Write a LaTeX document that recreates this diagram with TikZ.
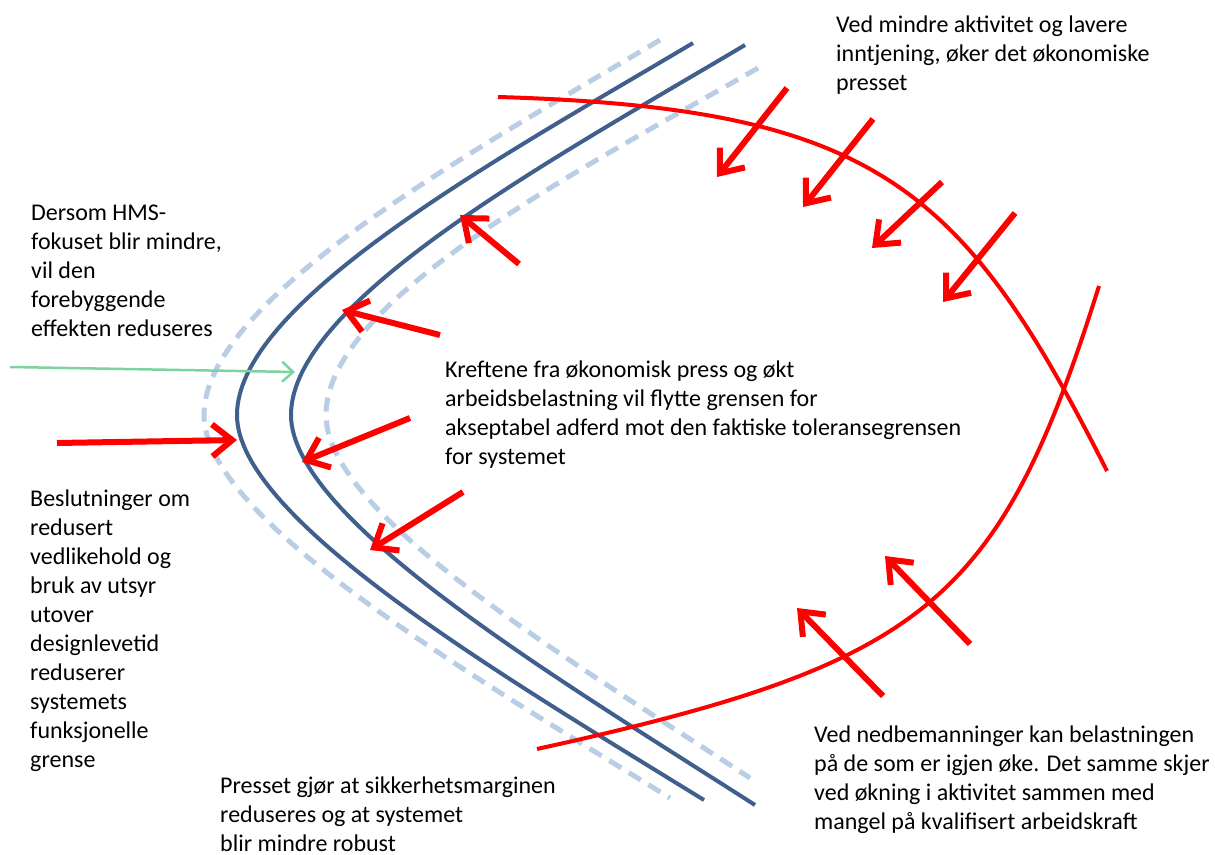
\documentclass[tikz,border=0pt]{standalone}
\usepackage{fontspec}
\setmainfont{Carlito}
\usetikzlibrary{arrows.meta}
\definecolor{grensebla}{RGB}{63,95,140}
\definecolor{marginbla}{RGB}{185,205,229}
\definecolor{hmsgronn}{RGB}{125,211,160}
\definecolor{pressrod}{RGB}{255,0,0}

\begin{document}
\begin{tikzpicture}[x=1pt,y=-1pt,
	every node/.style={align=left,anchor=north west,inner sep=0pt,font=\fontsize{24}{29}\selectfont},
	grense/.style={draw=grensebla,line width=4pt},
	margin/.style={draw=marginbla,line width=5pt,dash pattern=on 14pt off 9pt},
	press/.style={draw=pressrod,line width=4pt},
	kraft/.style={draw=pressrod,line width=6pt,-{Straight Barb[length=20pt,width=32pt]}},
	hms/.style={draw=hmsgronn,line width=2.5pt,-{Straight Barb[length=11pt,width=20pt]}}]
	\useasboundingbox (0,0) rectangle (1215,854);
	\draw[margin] (660,40) .. controls (475,150) and (204,298) .. (204,415) .. controls (204,520) and (473,676) .. (670,798);
	\draw[grense] (693,43) .. controls (508,153) and (237,300) .. (237,415) .. controls (237,520) and (506,678) .. (704,800);
	\draw[grense] (745,45) .. controls (560,155) and (291,300) .. (291,415) .. controls (291,520) and (560,680) .. (755,805);
	\draw[margin] (758,68) .. controls (580,170) and (326,300) .. (326,415) .. controls (326,515) and (570,660) .. (750,778);
	\draw[press] (498,97) .. controls (876,108) and (963,186) .. (1107,471);
	\draw[press] (1099,286) .. controls (999,604) and (927,663) .. (537,749);
	\coordinate (fra1) at (787,88);   \coordinate (til1) at (717,177);
	\coordinate (fra2) at (873,119);  \coordinate (til2) at (803,207);
	\coordinate (fra3) at (942,182);  \coordinate (til3) at (872,248);
	\coordinate (fra4) at (1015,213); \coordinate (til4) at (943,302);
	\coordinate (fra5) at (519,264);  \coordinate (til5) at (460,215);
	\coordinate (fra6) at (440,335);  \coordinate (til6) at (342,310);
	\coordinate (fra7) at (410,418);  \coordinate (til7) at (302,462);
	\coordinate (fra8) at (463,492);  \coordinate (til8) at (370,550);
	\coordinate (fra9) at (57,443);   \coordinate (til9) at (237,440);
	\coordinate (fra10) at (883,696); \coordinate (til10) at (797,608);
	\coordinate (fra11) at (970,644); \coordinate (til11) at (885,556);
	\foreach \i in {1,...,11}
		\draw[kraft] (fra\i) -- (til\i);
	\coordinate (hmsfra) at (10,367);
	\coordinate (hmstil) at (295,372);
	\draw[hms] (hmsfra) -- (hmstil);
	\node (okonomi) at (836,15.4) {Ved mindre aktivitet og lavere\\inntjening, øker det økonomiske\\presset};
	\node (hmsfokus) at (31,204.8) {Dersom HMS-\\fokuset blir mindre,\\vil den\\forebyggende\\effekten reduseres};
	\node (krefter) at (445,360.4) {Kreftene fra økonomisk press og økt\\arbeidsbelastning vil flytte grensen for\\akseptabel adferd mot den faktiske toleransegrensen\\for systemet};
	\node (vedlikehold) at (30,489.4) {Beslutninger om\\redusert\\vedlikehold og\\bruk av utsyr\\utover\\designlevetid\\reduserer\\systemets\\funksjonelle\\grense};
	\node (margin) at (220,776.5) {Presset gjør at sikkerhetsmarginen\\reduseres og at systemet\\blir mindre robust};
	\node (bemanning) at (814,725.4) {Ved nedbemanninger kan belastningen\\på de som er igjen øke. Det samme skjer\\ved økning i aktivitet sammen med\\mangel på kvalifisert arbeidskraft};
\end{tikzpicture}
\end{document}
